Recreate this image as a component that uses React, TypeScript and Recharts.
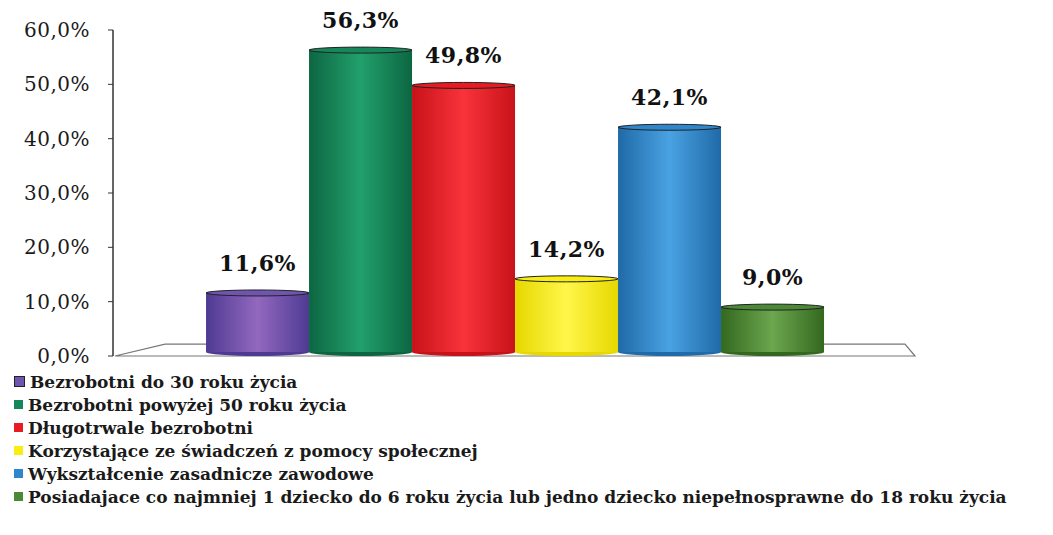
import { BarChart, Bar, XAxis, YAxis, LabelList, ReferenceArea } from "recharts";

const seriesNames = [
  "Bezrobotni do 30 roku życia",
  "Bezrobotni powyżej 50 roku życia",
  "Długotrwale bezrobotni",
  "Korzystające ze świadczeń z pomocy społecznej",
  "Wykształcenie zasadnicze zawodowe",
  "Posiadajace co najmniej 1 dziecko do 6 roku życia lub jedno dziecko niepełnosprawne do 18 roku życia",
];
const seriesValues = [11.6, 56.3, 49.8, 14.2, 42.1, 9.0];
const seriesColors = ["#6f55b0", "#15875a", "#ea1a22", "#f8ee10", "#2e86cc", "#4a8a36"];
const seriesLight = ["#9368bf", "#22a06c", "#f9333a", "#fff64a", "#4aa2e2", "#6ca64e"];
const seriesDark = ["#4e3a92", "#0c6642", "#c8121a", "#e6d800", "#1f6aa8", "#33681f"];
const yTicks = [0, 10, 20, 30, 40, 50, 60];

const row: Record<string, number | string> = { name: "" };
seriesValues.forEach((v, i) => (row["s" + i] = v));
const data = [row];

const fmt = (v: number) => v.toFixed(1).replace(".", ",") + "%";

function Cylinder(props: any) {
  const { x, y, width, height, idx } = props;
  if (!width || height == null) return null;
  const ry = 3;
  const gid = "cyl" + idx;
  return (
    <g>
      <defs>
        <linearGradient id={gid} x1="0" y1="0" x2="1" y2="0">
          <stop offset="0%" stopColor={seriesDark[idx]} />
          <stop offset="50%" stopColor={seriesLight[idx]} />
          <stop offset="100%" stopColor={seriesDark[idx]} />
        </linearGradient>
      </defs>
      <ellipse cx={x + width / 2} cy={y + height - 4} rx={width / 2} ry={ry + 1} fill={seriesDark[idx]} />
      <rect x={x} y={y} width={width} height={height - 4} fill={`url(#${gid})`} />
      <ellipse
        cx={x + width / 2}
        cy={y}
        rx={width / 2}
        ry={ry}
        fill={seriesColors[idx]}
        stroke="#222"
        strokeWidth={1}
      />
    </g>
  );
}

function Floor(props: any) {
  const { x, y, width, height } = props;
  const pts = [
    [x + 2, y + height],
    [x + width, y + height],
    [x + width - 10, y],
    [x + 52, y],
  ]
    .map((p) => p.join(","))
    .join(" ");
  return <polygon points={pts} fill="#fff" stroke="#777" strokeWidth={1.2} />;
}

export default function App() {
  return (
    <div style={{ position: "absolute", left: 0, top: 0, width: 1053, height: 535, background: "#fff" }}>
      <BarChart
        width={1053}
        height={372}
        data={data}
        margin={{ top: 30, right: 138, bottom: 16, left: 0 }}
        barGap={0}
        barCategoryGap="11.6%"
      >
        <XAxis dataKey="name" hide />
        <YAxis
          width={113}
          domain={[0, 60]}
          ticks={yTicks}
          tickFormatter={fmt}
          tickSize={5}
          tickMargin={18}
          axisLine={{ stroke: "#333", strokeWidth: 1.5 }}
          tickLine={{ stroke: "#333" }}
          tick={{ fill: "#1a1a1a", fontFamily: "DejaVu Serif", fontSize: 20, letterSpacing: 0.5 }}
        />
        <ReferenceArea y1={0} y2={2.2} shape={<Floor />} ifOverflow="visible" />
        {seriesValues.map((_, i) => (
          <Bar
            key={i}
            dataKey={"s" + i}
            isAnimationActive={false}
            fill={seriesColors[i]}
            shape={(p: any) => <Cylinder {...p} idx={i} />}
          >
            <LabelList
              dataKey={"s" + i}
              position="top"
              offset={22}
              formatter={(v: any) => fmt(Number(v))}
              style={{ fill: "#111", fontFamily: "DejaVu Serif", fontWeight: 700, fontSize: 22, letterSpacing: 0.5 }}
            />
          </Bar>
        ))}
      </BarChart>
      <div
        style={{
          position: "absolute",
          left: 14,
          top: 370,
          fontFamily: "DejaVu Serif",
          fontWeight: 700,
          fontSize: 17,
          color: "#1a1a1a",
          whiteSpace: "nowrap",
        }}
      >
        {seriesNames.map((n, i) => (
          <div key={i} style={{ height: 23, display: "flex", alignItems: "center" }}>
            <span
              style={{
                display: "inline-block",
                width: 9,
                height: 9,
                background: seriesColors[i],
                border: i === 0 ? "1px solid #222" : "none",
                marginRight: 5,
              }}
            />
            {n}
          </div>
        ))}
      </div>
    </div>
  );
}
